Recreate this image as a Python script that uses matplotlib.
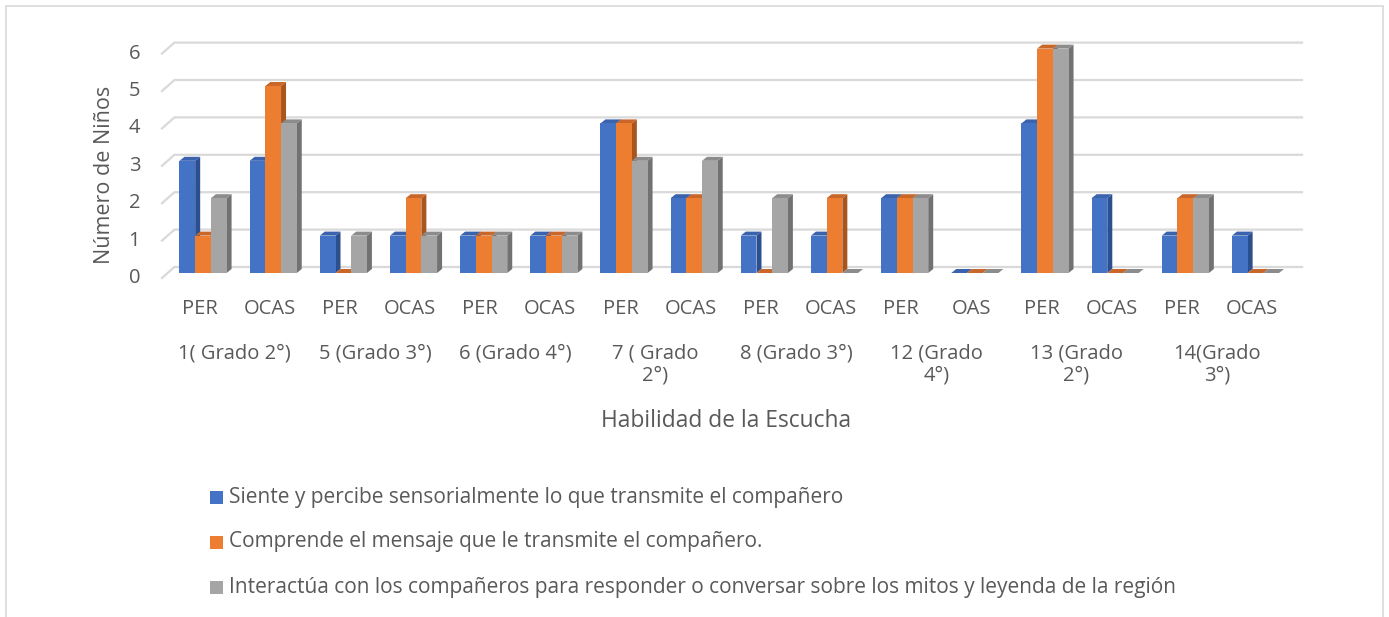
import matplotlib
matplotlib.use("Agg")
import matplotlib.pyplot as plt
from matplotlib.patches import Polygon, Rectangle
from matplotlib.lines import Line2D

# ---------------- data ----------------
categories = ["PER", "OCAS", "PER", "OCAS", "PER", "OCAS", "PER", "OCAS",
              "PER", "OCAS", "PER", "OAS", "PER", "OCAS", "PER", "OCAS"]
groups = ["1( Grado 2°)", "5 (Grado 3°)", "6 (Grado 4°)", "7 ( Grado\n2°)",
          "8 (Grado 3°)", "12 (Grado\n4°)", "13 (Grado\n2°)", "14(Grado\n3°)"]
series_names = [
    "Siente y percibe sensorialmente lo que transmite el compañero",
    "Comprende el mensaje que le transmite el compañero.",
    "Interactúa con los compañeros para responder o conversar sobre los mitos y leyenda de la región",
]
siente = [3, 3, 1, 1, 1, 1, 4, 2, 1, 1, 2, 0, 4, 2, 1, 1]
comprende = [1, 5, 0, 2, 1, 1, 4, 2, 0, 2, 2, 0, 6, 0, 2, 0]
interactua = [2, 4, 1, 1, 1, 1, 3, 3, 2, 0, 2, 0, 6, 0, 2, 0]
y_ticks = [0, 1, 2, 3, 4, 5, 6]
x_title = "Habilidad de la Escucha"
y_title = "Número de Niños"

# ---------------- style ----------------
front_colors = ["#4472C4", "#ED7D31", "#A5A5A5"]
side_colors = ["#2C4F8F", "#A9561E", "#727272"]
top_colors = ["#3B63AD", "#C9662A", "#8C8C8C"]
text_color = "#595959"
grid_color = "#D9D9D9"
plt.rcParams["font.family"] = ["Open Sans", "DejaVu Sans"]

W, H, DPI = 1389, 617, 100
fig = plt.figure(figsize=(W / DPI, H / DPI), dpi=DPI)
fig.patch.set_facecolor("white")

def fx(px):
    return px / W

def fy(py):
    return 1 - py / H

# axes geometry in pixels (front plane)
left_px, right_px = 164.4, 1287.0
y0_px, y6_px = 278.0, 53.6
ax = fig.add_axes([fx(left_px), fy(y0_px), (right_px - left_px) / W, (y0_px - y6_px) / H])
n = len(categories)
ax.set_xlim(-0.5, n - 0.5)
ax.set_ylim(0, 6)
ax.axis("off")

ux = n / (right_px - left_px)       # data units per pixel (x)
uy = 6 / (y0_px - y6_px)            # data units per pixel (y)

# back wall gridlines with diagonal side edge
back_dx, back_dy = 10.0, 11.0
for v in y_ticks:
    xl = -0.5 - 2.4 * ux
    xb = -0.5 + back_dx * ux
    xr = n - 0.5 + 15 * ux
    yb = v + back_dy * uy
    ax.add_line(Line2D([xl, xb, xr], [v, yb, yb], color=grid_color, lw=1.6,
                       clip_on=False, zorder=1, solid_joinstyle="miter"))

# bars with pseudo-3D faces
series = [siente, comprende, interactua]
bar_w = 15.7 * ux
start_off = -20.0 * ux
base = 5.0 * uy
ddx, ddy = 5.0 * ux, 4.0 * uy
for i in range(n):
    for s, vals in enumerate(series):
        v = vals[i]
        x0 = i + start_off + s * bar_w
        x1 = x0 + bar_w
        yb = base
        yt = base + v
        side = Polygon([(x1, yb), (x1 + ddx, yb + ddy), (x1 + ddx, yt + ddy), (x1, yt)],
                       closed=True, facecolor=side_colors[s], edgecolor="none",
                       clip_on=False, zorder=2)
        ax.add_patch(side)
        top = Polygon([(x0, yt), (x0 + ddx, yt + ddy), (x1 + ddx, yt + ddy), (x1, yt)],
                      closed=True, facecolor=top_colors[s], edgecolor="none",
                      clip_on=False, zorder=2)
        ax.add_patch(top)
        if v > 0:
            ax.add_patch(Rectangle((x0, yb), bar_w, v, facecolor=front_colors[s],
                                   edgecolor="none", clip_on=False, zorder=2))

fs = 14.5
# y tick labels
for v in y_ticks:
    ax.text(-0.5 - 30 * ux, v, str(v), ha="center", va="center",
            fontsize=fs, color=text_color, clip_on=False)

# category labels
step = (right_px - left_px) / n
for i, c in enumerate(categories):
    fig.text(fx(199.5 + i * step), fy(309), c, ha="center", va="center",
             fontsize=fs, color=text_color)
for g, lab in enumerate(groups):
    cx = 199.5 + (2 * g + 0.5) * step
    fig.text(fx(cx), fy(343), lab, ha="center", va="top", fontsize=fs,
             color=text_color, linespacing=1.15, multialignment="center")

fig.text(fx(726), fy(421), x_title, ha="center", va="center", fontsize=16.4, color=text_color)
fig.text(fx(104), fy(175), y_title, ha="center", va="center", rotation=90,
         fontsize=15.5, color=text_color)

# legend
for k, name in enumerate(series_names):
    yc = 497 + k * 45
    fig.patches.append(Rectangle((fx(210), fy(yc + 6.5)), 13 / W, 13 / H,
                                 transform=fig.transFigure, facecolor=front_colors[k],
                                 edgecolor="none"))
    fig.text(fx(229), fy(yc), name, ha="left", va="center", fontsize=15, color=text_color)

# outer frame
fig.patches.append(Rectangle((fx(6), fy(640)), (1383 - 6) / W, (640 - 6) / H,
                             transform=fig.transFigure, facecolor="none",
                             edgecolor=grid_color, lw=1.2))

fig.savefig("out.png", dpi=DPI, facecolor="white")
